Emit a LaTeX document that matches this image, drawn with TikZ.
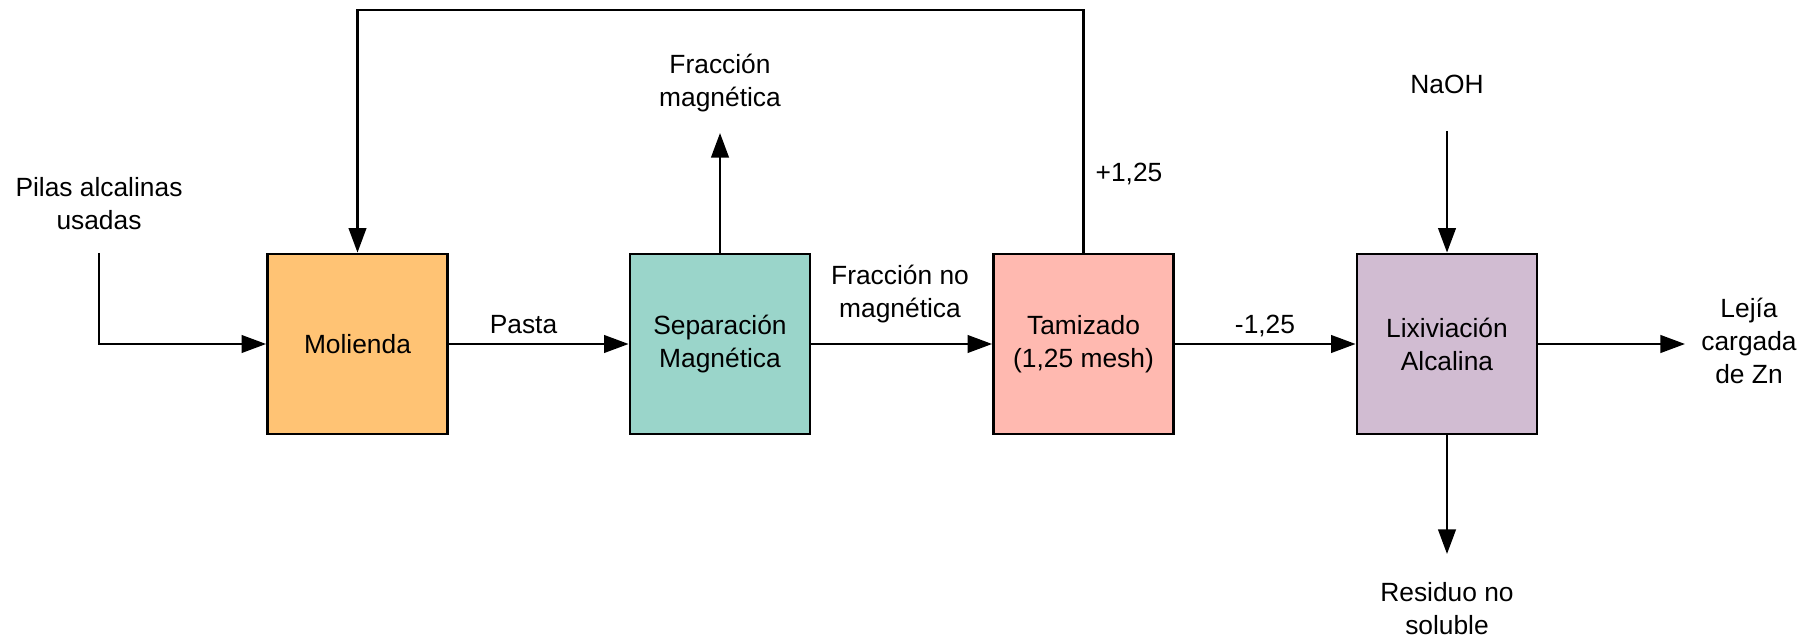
\documentclass[tikz,border=0pt]{standalone}
\usepackage{fontspec}
\setmainfont{Liberation Sans}
\usepackage{tikz}
\usetikzlibrary{arrows.meta, positioning}
\definecolor{molienda}{HTML}{FFC374}
\definecolor{separacion}{HTML}{9AD5CA}
\definecolor{tamizado}{HTML}{FFB9B0}
\definecolor{lixiviacion}{HTML}{D1BCD2}
\newcommand{\lblfont}{\fontsize{15}{18.8}\selectfont}

\begin{document}
\begin{tikzpicture}[x=0.02cm, y=-0.02cm,
        proc/.style={draw, line width=1.6pt, minimum width=3.6cm, minimum height=3.6cm, align=center, font=\lblfont},
        lbl/.style={align=center, font=\lblfont, inner sep=0pt},
        flow/.style={line width=1.4pt, -{Triangle[length=14pt, width=10pt]}},
        feed/.style={line width=1.4pt}]
        \useasboundingbox (0,0) rectangle (1815,641);
        \node[proc, fill=molienda] (mol) at (357.5,344) {Molienda};
        \node[proc, fill=separacion] (sep) at (720,344) {Separación\\Magnética};
        \node[proc, fill=tamizado] (tam) at (1083.5,344) {Tamizado\\(1,25 mesh)};
        \node[proc, fill=lixiviacion] (lix) at (1447,344) {Lixiviación\\Alcalina};
        \node[lbl] (pilas) at (99,204) {Pilas alcalinas\\usadas};
        \node[lbl] (pasta) at (523.5,325) {Pasta};
        \node[lbl] (fmag) at (720,83) {Fracción\\magnética};
        \node[lbl] (fnomag) at (900,294) {Fracción no\\magnética};
        \node[lbl] (plus) at (1129,174) {+1,25};
        \node[lbl] (minus) at (1265,326) {-1,25};
        \node[lbl] (naoh) at (1447,84) {NaOH};
        \node[lbl] (lejia) at (1749,341) {Lejía\\cargada\\de Zn};
        \node[lbl] (residuo) at (1447,609) {Residuo no\\soluble};
        \coordinate (pilasIn) at (99,253);
        \coordinate (fmagOut) at (720,133);
        \coordinate (naohIn) at (1447,131);
        \coordinate (lejiaOut) at (1685,344);
        \coordinate (residuoOut) at (1447,554);
        \draw[flow] (pilasIn) |- (mol.west);
        \draw[flow] (mol.east) -- (sep.west);
        \draw[flow] (sep.north) -- (fmagOut);
        \draw[flow] (sep.east) -- (tam.west);
        \draw[flow] (tam.north) -- (1083.5,10) -| (mol.north);
        \draw[flow] (tam.east) -- (lix.west);
        \draw[flow] (naohIn) -- (lix.north);
        \draw[flow] (lix.east) -- (lejiaOut);
        \draw[flow] (lix.south) -- (residuoOut);
\end{tikzpicture}
\end{document}
